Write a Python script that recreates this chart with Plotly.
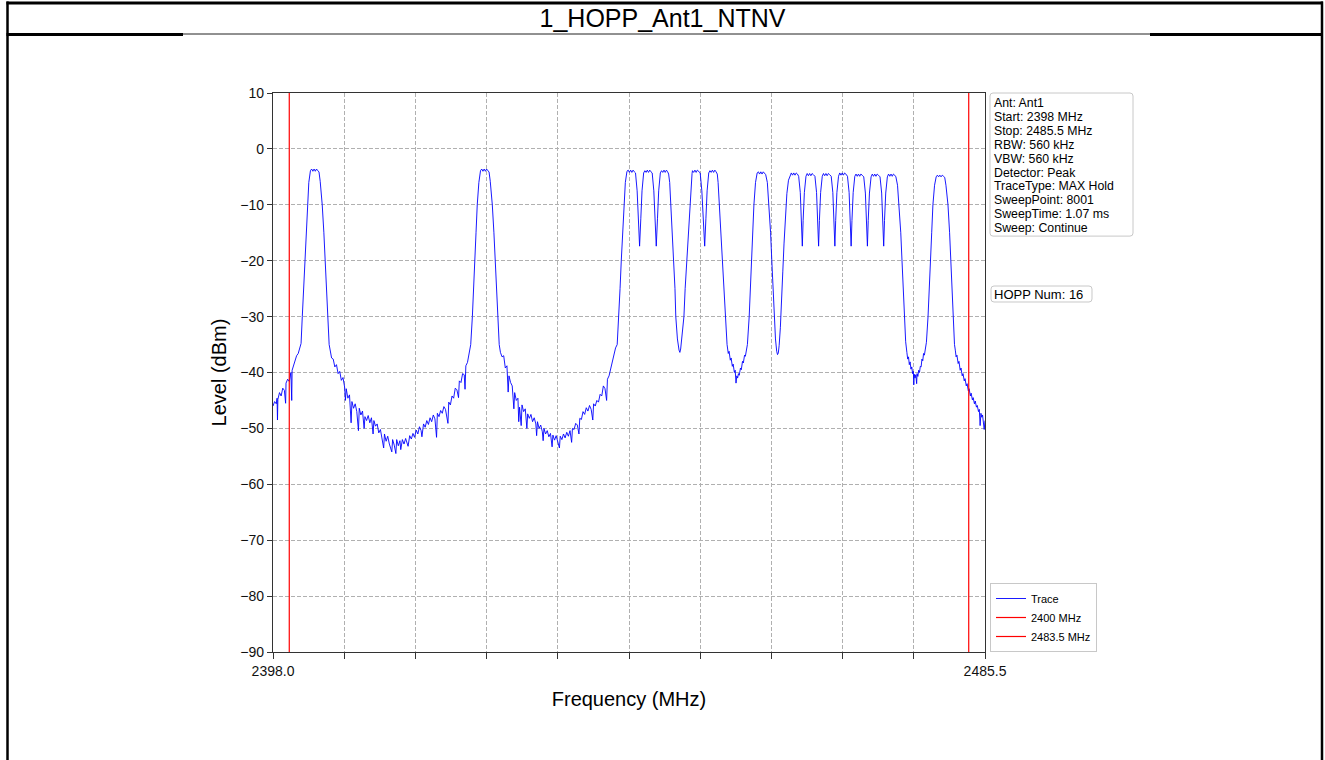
import plotly.graph_objects as go

# ---------------- data ----------------
TITLE = "1_HOPP_Ant1_NTNV"
X_RANGE = [2398.0, 2485.5]
Y_RANGE = [-90, 10]
Y_TICKS = [-90, -80, -70, -60, -50, -40, -30, -20, -10, 0, 10]
X_TICKS = [2398.0, 2406.75, 2415.5, 2424.25, 2433.0, 2441.75,
           2450.5, 2459.25, 2468.0, 2476.75, 2485.5]
X_TICK_TEXT = ["2398.0", "", "", "", "", "", "", "", "", "", "2485.5"]
LIMIT_FREQS = [2400.0, 2483.5]
LIMIT_NAMES = ["2400 MHz", "2483.5 MHz"]
INFO_LINES = ["Ant: Ant1", "Start: 2398 MHz", "Stop: 2485.5 MHz", "RBW: 560 kHz",
              "VBW: 560 kHz", "Detector: Peak", "TraceType: MAX Hold",
              "SweepPoint: 8001", "SweepTime: 1.07 ms", "Sweep: Continue"]
HOPP_TEXT = "HOPP Num: 16"

# trace: frequency (MHz) and level (dBm), segment by segment
FREQ_MHZ = [
    # noise 2398 - 2401.4
    2398.0, 2398.2, 2398.4, 2398.5, 2398.55, 2398.6, 2398.8, 2399.0, 2399.2, 2399.4,
    2399.55, 2399.6, 2399.8, 2400.0, 2400.2, 2400.3, 2400.35, 2400.5, 2400.7, 2400.9,
    2401.1, 2401.3, 2401.45,
    # channel 2403
    2401.6, 2401.75, 2401.9, 2402.05, 2402.2, 2402.4, 2402.6, 2402.75, 2402.9, 2403.05,
    2403.2, 2403.35, 2403.5, 2403.65, 2403.8, 2404.05, 2404.25, 2404.4, 2404.55, 2404.67,
    2404.9,
    # noise 2405 - 2422
    2405.0, 2405.2, 2405.4, 2405.6, 2405.8, 2406.0, 2406.2, 2406.4, 2406.6, 2406.8,
    2406.9, 2407.0, 2407.2, 2407.4, 2407.6, 2407.7, 2407.9, 2408.1, 2408.3, 2408.5,
    2408.6, 2408.8, 2409.0, 2409.2, 2409.3, 2409.5, 2409.7, 2409.9, 2410.1, 2410.3,
    2410.4, 2410.6, 2410.8, 2411.0, 2411.2, 2411.4, 2411.6, 2411.7, 2411.9, 2412.1,
    2412.3, 2412.6, 2412.7, 2412.9, 2413.1, 2413.2, 2413.4, 2413.6, 2413.7, 2413.9,
    2414.1, 2414.3, 2414.5, 2414.6, 2414.8, 2415.0, 2415.2, 2415.4, 2415.6, 2415.8,
    2416.0, 2416.2, 2416.3, 2416.5, 2416.7, 2416.9, 2417.1, 2417.3, 2417.5, 2417.7,
    2417.9, 2418.1, 2418.2, 2418.4, 2418.6, 2418.8, 2419.0, 2419.2, 2419.5, 2419.6,
    2419.8, 2420.0, 2420.2, 2420.4, 2420.6, 2420.8, 2420.9, 2421.1, 2421.3, 2421.5,
    2421.6, 2421.7, 2421.9, 2422.1,
    # channel 2424
    2422.3, 2422.5, 2422.62, 2422.8, 2422.95, 2423.1, 2423.3, 2423.5, 2423.65, 2423.8,
    2423.95, 2424.1, 2424.25, 2424.4, 2424.55, 2424.7, 2424.95, 2425.15, 2425.3, 2425.45,
    2425.57, 2425.8,
    # noise 2426 - 2440
    2425.95, 2426.15, 2426.35, 2426.55, 2426.75, 2426.9, 2427.0, 2427.2, 2427.4, 2427.6,
    2427.7, 2427.9, 2428.1, 2428.2, 2428.3, 2428.5, 2428.6, 2428.8, 2429.0, 2429.2,
    2429.3, 2429.5, 2429.7, 2429.9, 2430.1, 2430.3, 2430.4, 2430.5, 2430.7, 2430.9,
    2431.1, 2431.2, 2431.3, 2431.5, 2431.7, 2431.9, 2432.1, 2432.3, 2432.4, 2432.6,
    2432.8, 2433.0, 2433.2, 2433.3, 2433.5, 2433.7, 2433.9, 2434.1, 2434.3, 2434.5,
    2434.7, 2434.8, 2435.0, 2435.2, 2435.4, 2435.6, 2435.7, 2435.9, 2436.1, 2436.3,
    2436.5, 2436.7, 2436.9, 2437.1, 2437.3, 2437.4, 2437.6, 2437.8, 2438.0, 2438.2,
    2438.4, 2438.6, 2438.8, 2439.0, 2439.1, 2439.3, 2439.5, 2439.7, 2439.9, 2440.1,
    # channels 2442 / 2444 / 2446
    2440.3, 2440.52, 2440.65, 2440.8, 2440.95, 2441.1, 2441.3, 2441.5, 2441.65, 2441.8,
    2441.95, 2442.1, 2442.25, 2442.4, 2442.55, 2442.75, 2442.9, 2443.05, 2443.2, 2443.35,
    2443.55, 2443.7, 2443.85, 2444.0, 2444.15, 2444.3, 2444.45, 2444.6, 2444.8, 2444.95,
    2445.1, 2445.25, 2445.4, 2445.6, 2445.75, 2445.9, 2446.05, 2446.2, 2446.35, 2446.5,
    2446.62, 2446.75, 2446.9, 2447.1, 2447.3, 2447.4, 2447.5, 2447.7, 2447.9, 2448.0,
    2448.1, 2448.3, 2448.5, 2448.65, 2448.85, 2449.0, 2449.2, 2449.35,
    # channels 2450 / 2452
    2449.5, 2449.55, 2449.7, 2449.85, 2450.0, 2450.15, 2450.3, 2450.5, 2450.7, 2450.9,
    2451.05, 2451.2, 2451.35, 2451.55, 2451.7, 2451.85, 2452.0, 2452.15, 2452.3, 2452.45,
    2452.6, 2452.7, 2452.85, 2453.0, 2453.15, 2453.35, 2453.55, 2453.8,
    # noise 2454 - 2456
    2453.95, 2454.05, 2454.2, 2454.3, 2454.45, 2454.55, 2454.7, 2454.8, 2454.9, 2455.0,
    2455.1, 2455.2, 2455.3, 2455.45, 2455.55, 2455.7, 2455.8, 2455.95, 2456.05, 2456.2,
    # channel 2458
    2456.3, 2456.52, 2456.65, 2456.8, 2456.95, 2457.1, 2457.3, 2457.5, 2457.65, 2457.8,
    2457.95, 2458.1, 2458.25, 2458.4, 2458.55, 2458.75, 2458.95, 2459.15, 2459.3, 2459.45,
    2459.57, 2459.75, 2459.9, 2460.0, 2460.1, 2460.2,
    # channels 2462 ... 2474
    2460.35, 2460.5, 2460.65, 2460.8, 2460.95, 2461.15, 2461.35,
    2461.55, 2461.7, 2461.85, 2462.0, 2462.15, 2462.3, 2462.45, 2462.6,
    2462.8, 2462.95, 2463.05, 2463.15, 2463.3, 2463.5,
    2463.65, 2463.8, 2463.95, 2464.1, 2464.25, 2464.4, 2464.6,
    2464.8, 2464.95, 2465.05, 2465.15, 2465.3, 2465.5,
    2465.65, 2465.8, 2465.95, 2466.1, 2466.25, 2466.4, 2466.6,
    2466.8, 2466.95, 2467.05, 2467.15, 2467.3, 2467.5,
    2467.65, 2467.8, 2467.95, 2468.1, 2468.25, 2468.4, 2468.6,
    2468.8, 2468.95, 2469.05, 2469.15, 2469.3, 2469.5,
    2469.65, 2469.8, 2469.95, 2470.1, 2470.25, 2470.4, 2470.6,
    2470.8, 2470.95, 2471.05, 2471.15, 2471.3, 2471.5,
    2471.65, 2471.8, 2471.95, 2472.1, 2472.25, 2472.4, 2472.6,
    2472.8, 2472.95, 2473.05, 2473.15, 2473.3, 2473.5,
    2473.65, 2473.8, 2473.95, 2474.1, 2474.25, 2474.4, 2474.55,
    2474.75, 2474.95, 2475.15, 2475.3, 2475.45, 2475.57, 2475.75,
    # noise 2476 - 2478
    2475.9, 2476.0, 2476.1, 2476.2, 2476.3, 2476.4, 2476.5, 2476.6, 2476.7, 2476.75,
    2476.8, 2476.9, 2477.0, 2477.1, 2477.15, 2477.25, 2477.35, 2477.45, 2477.55, 2477.65,
    2477.75, 2477.85, 2477.95, 2478.05, 2478.15, 2478.3,
    # channel 2480
    2478.5, 2478.62, 2478.8, 2478.95, 2479.1, 2479.3, 2479.5, 2479.65, 2479.8, 2479.95,
    2480.1, 2480.25, 2480.4, 2480.55, 2480.7, 2480.95, 2481.15, 2481.3, 2481.45, 2481.57,
    2481.75,
    # noise 2482 - 2485.5
    2481.85, 2481.95, 2482.05, 2482.2, 2482.3, 2482.45, 2482.55, 2482.7, 2482.8, 2482.95,
    2483.05, 2483.2, 2483.3, 2483.45, 2483.55, 2483.7, 2483.8, 2483.95, 2484.05, 2484.2,
    2484.3, 2484.45, 2484.55, 2484.7, 2484.8, 2484.9, 2485.0, 2485.1, 2485.2, 2485.3,
    2485.4, 2485.5,
]

LEVEL_DBM = [
    # noise 2398 - 2401.4
    -46.0, -45.2, -45.6, -44.6, -48.5, -44.8, -43.6, -44.2, -42.8, -43.2,
    -45.5, -41.9, -41.2, -41.6, -40.0, -45.0, -39.6, -38.8, -38.2, -37.0,
    -36.6, -35.4, -34.8,
    # channel 2403
    -30.0, -25.0, -20.0, -15.0, -10.0, -6.0, -3.9, -3.6, -4.0, -3.6,
    -4.0, -3.6, -3.9, -4.1, -5.8, -10.0, -15.0, -20.0, -25.0, -30.0,
    -35.0,
    # noise 2405 - 2422
    -35.8, -37.4, -37.6, -39.0, -38.6, -40.2, -39.8, -41.4, -40.9, -42.6,
    -45.0, -42.9, -44.6, -44.0, -49.0, -45.2, -46.4, -45.6, -47.0, -50.4,
    -46.4, -47.6, -46.9, -50.0, -47.9, -48.6, -47.7, -49.0, -48.1, -51.0,
    -48.6, -49.6, -49.2, -50.8, -50.2, -51.6, -53.5, -51.0, -52.3, -51.4,
    -52.8, -54.2, -52.0, -53.0, -54.5, -52.0, -53.1, -52.2, -53.8, -52.0,
    -52.8, -51.8, -52.6, -53.2, -51.3, -51.9, -50.9, -51.6, -50.3, -51.0,
    -49.7, -50.4, -51.5, -49.2, -49.8, -48.6, -49.3, -48.1, -48.8, -47.6,
    -48.3, -51.6, -47.3, -47.9, -46.8, -47.3, -46.1, -46.6, -49.1, -45.3,
    -45.8, -44.2, -44.6, -42.8, -43.1, -44.5, -41.5, -41.8, -40.2, -40.4,
    -43.0, -38.8, -38.2, -36.5,
    # channel 2424
    -35.0, -30.0, -25.0, -20.0, -15.0, -10.0, -6.0, -3.9, -3.6, -4.0,
    -3.6, -4.0, -3.6, -3.9, -4.1, -5.8, -10.0, -15.0, -20.0, -25.0,
    -30.0, -35.0,
    # noise 2426 - 2440
    -36.4, -37.2, -37.0, -39.2, -38.8, -43.5, -40.6, -41.8, -42.4, -46.5,
    -43.6, -45.0, -44.6, -48.8, -46.2, -49.5, -45.8, -47.0, -46.5, -50.0,
    -47.4, -48.2, -47.5, -48.8, -48.1, -49.2, -51.3, -48.8, -50.0, -49.4,
    -50.6, -52.2, -50.0, -51.0, -50.4, -51.5, -50.9, -53.3, -51.2, -52.1,
    -51.3, -52.2, -53.5, -51.4, -52.0, -51.0, -51.7, -50.7, -51.4, -50.4,
    -52.5, -50.0, -50.2, -49.1, -49.4, -51.0, -48.2, -48.4, -47.0, -47.5,
    -46.3, -46.9, -45.9, -46.6, -48.5, -45.6, -46.0, -45.0, -45.3, -43.9,
    -44.2, -42.4, -42.9, -45.0, -41.2, -40.6, -39.4, -38.0, -37.2, -35.6,
    # channels 2442 / 2444 / 2446
    -35.0, -30.0, -25.0, -20.0, -15.0, -10.0, -6.0, -4.0, -3.8, -4.2,
    -3.8, -4.2, -3.8, -4.1, -4.3, -7.5, -12.5, -17.4, -12.5, -7.5,
    -4.3, -3.9, -4.2, -3.8, -4.2, -3.8, -4.1, -4.3, -7.5, -12.5,
    -17.4, -12.5, -7.5, -4.3, -3.9, -4.2, -3.8, -4.2, -3.8, -4.1,
    -4.5, -6.0, -10.0, -15.0, -20.0, -25.0, -30.0, -34.0, -36.0, -36.4,
    -35.8, -33.0, -30.0, -25.0, -20.0, -15.0, -10.0, -6.0,
    # channels 2450 / 2452
    -4.4, -3.9, -4.2, -3.8, -4.2, -3.8, -4.1, -4.3, -7.5, -12.5,
    -17.4, -12.5, -7.5, -4.3, -3.9, -4.2, -3.8, -4.2, -3.8, -4.1,
    -4.5, -6.0, -10.0, -15.0, -20.0, -25.0, -30.0, -35.0,
    # noise 2454 - 2456
    -36.6, -36.2, -37.8, -37.4, -38.9, -38.5, -40.0, -39.6, -41.9, -40.6,
    -41.0, -40.2, -40.5, -39.2, -39.5, -38.0, -38.3, -36.9, -37.1, -35.5,
    # channel 2458
    -35.0, -30.0, -25.0, -20.0, -15.0, -10.0, -6.0, -4.3, -4.1, -4.5,
    -4.1, -4.5, -4.1, -4.4, -4.6, -6.0, -10.0, -15.0, -20.0, -25.0,
    -30.0, -34.0, -36.2, -36.8, -36.5, -35.2,
    # channels 2462 ... 2474
    -32.0, -28.0, -22.0, -17.0, -12.0, -8.0, -5.6,
    -4.6, -4.3, -4.7, -4.3, -4.7, -4.3, -4.5, -4.9,
    -7.8, -12.8, -17.4, -12.8, -7.8, -4.9,
    -4.4, -4.8, -4.4, -4.8, -4.4, -4.6, -4.9,
    -7.8, -12.8, -17.4, -12.8, -7.8, -4.9,
    -4.4, -4.8, -4.4, -4.8, -4.4, -4.6, -4.9,
    -7.8, -12.8, -17.4, -12.8, -7.8, -4.9,
    -4.3, -4.7, -4.3, -4.7, -4.3, -4.5, -4.9,
    -7.8, -12.8, -17.4, -12.8, -7.8, -4.9,
    -4.5, -4.9, -4.5, -4.9, -4.5, -4.7, -5.0,
    -7.9, -12.8, -17.4, -12.8, -7.9, -5.0,
    -4.5, -4.9, -4.5, -4.9, -4.5, -4.7, -5.0,
    -7.9, -12.8, -17.4, -12.8, -7.9, -5.0,
    -4.5, -4.9, -4.5, -4.9, -4.5, -4.7, -5.0,
    -6.5, -10.0, -15.0, -20.0, -25.0, -30.0, -34.5,
    # noise 2476 - 2478
    -36.4, -37.6, -37.2, -38.6, -38.1, -39.4, -39.0, -40.2, -39.8, -42.2,
    -40.3, -41.0, -40.4, -42.0, -40.2, -40.7, -39.6, -40.0, -38.9, -39.0,
    -37.6, -37.9, -36.6, -36.9, -35.5, -34.6,
    # channel 2480
    -30.0, -25.0, -20.0, -15.0, -10.0, -6.5, -5.0, -4.7, -5.0, -4.7,
    -5.0, -4.7, -4.9, -5.1, -6.5, -10.0, -15.0, -20.0, -25.0, -30.0,
    -35.0,
    # noise 2482 - 2485.5
    -36.0, -37.2, -36.9, -38.4, -38.0, -39.6, -39.2, -40.6, -40.2, -41.5,
    -41.1, -42.4, -42.0, -43.3, -42.9, -44.2, -43.7, -44.9, -44.5, -45.6,
    -45.1, -46.2, -45.9, -47.0, -46.6, -49.5, -47.3, -48.0, -47.6, -48.5,
    -50.2, -48.6,
]

# ---------------- layout geometry (pixels) ----------------
W, H = 1325, 760
PL, PR, PT, PB = 273, 985, 93, 652   # plot area edges in px
FONT = "Liberation Sans, Arial, sans-serif"
INFO_FONT = 12.3
INFO_STEP = 13.9


def px_x(px):
    return (px - PL) / (PR - PL)


def px_y(py):
    return (PB - py) / (PB - PT)


fig = go.Figure()
fig.add_trace(go.Scatter(x=FREQ_MHZ, y=LEVEL_DBM, mode="lines", name="Trace",
                         line=dict(color="#0000ff", width=0.9)))
for f, n in zip(LIMIT_FREQS, LIMIT_NAMES):
    fig.add_trace(go.Scatter(x=[f, f], y=Y_RANGE, mode="lines", name=n,
                             line=dict(color="#ff0000", width=1.2)))

shapes = []
# outer document frame
shapes.append(dict(type="line", xref="paper", yref="paper", x0=px_x(7.5), x1=px_x(7.5),
                   y0=px_y(1.5), y1=px_y(762), line=dict(color="#000", width=2.5)))
shapes.append(dict(type="line", xref="paper", yref="paper", x0=px_x(1322), x1=px_x(1322),
                   y0=px_y(1.5), y1=px_y(762), line=dict(color="#000", width=2.5)))
shapes.append(dict(type="line", xref="paper", yref="paper", x0=px_x(6.5), x1=px_x(1323),
                   y0=px_y(3), y1=px_y(3), line=dict(color="#000", width=3)))
# title separator
shapes.append(dict(type="line", xref="paper", yref="paper", x0=px_x(6.5), x1=px_x(183),
                   y0=px_y(34.5), y1=px_y(34.5), line=dict(color="#000", width=3)))
shapes.append(dict(type="line", xref="paper", yref="paper", x0=px_x(183), x1=px_x(1150),
                   y0=px_y(34), y1=px_y(34), line=dict(color="#222", width=1)))
shapes.append(dict(type="line", xref="paper", yref="paper", x0=px_x(1150), x1=px_x(1323),
                   y0=px_y(34.5), y1=px_y(34.5), line=dict(color="#000", width=3)))


def round_rect(x0, y0, x1, y1, r=3):
    def P(x, y):
        return f"{px_x(x):.5f},{px_y(y):.5f}"
    return (f"M {P(x0 + r, y0)} L {P(x1 - r, y0)} Q {P(x1, y0)} {P(x1, y0 + r)} "
            f"L {P(x1, y1 - r)} Q {P(x1, y1)} {P(x1 - r, y1)} L {P(x0 + r, y1)} "
            f"Q {P(x0, y1)} {P(x0, y1 - r)} L {P(x0, y0 + r)} Q {P(x0, y0)} {P(x0 + r, y0)} Z")


info_top = 93
first_c = info_top + 10
last_c = first_c + INFO_STEP * (len(INFO_LINES) - 1)
shapes.append(dict(type="path", xref="paper", yref="paper",
                   path=round_rect(990, info_top, 1133, last_c + 8),
                   line=dict(color="#c8c8c8", width=1), fillcolor="white"))
shapes.append(dict(type="path", xref="paper", yref="paper", path=round_rect(991, 286, 1092, 302),
                   line=dict(color="#c8c8c8", width=1), fillcolor="white"))

annotations = []
for i, t in enumerate(INFO_LINES):
    annotations.append(dict(text=t, xref="paper", yref="paper", x=px_x(992),
                            y=px_y(first_c + INFO_STEP * i),
                            xanchor="left", yanchor="middle", showarrow=False,
                            font=dict(family=FONT, size=INFO_FONT, color="#000")))
annotations.append(dict(text=HOPP_TEXT, xref="paper", yref="paper", x=px_x(992), y=px_y(294.5),
                        xanchor="left", yanchor="middle", showarrow=False,
                        font=dict(family=FONT, size=13, color="#000")))

axis_common = dict(showline=True, mirror=True, linecolor="#333", linewidth=1.3,
                   ticks="outside", tickwidth=1.2, tickcolor="#333",
                   showgrid=True, gridcolor="#b0b0b0", griddash="4px,2px", gridwidth=0.8,
                   zeroline=False, tickfont=dict(family=FONT, size=14, color="#111"))

fig.update_layout(
    width=W, height=H, autosize=False,
    margin=dict(l=PL, r=W - PR, t=PT, b=H - PB),
    paper_bgcolor="white", plot_bgcolor="white",
    title=dict(text=TITLE, x=0.5, xref="container", xanchor="center",
               y=1 - 18.5 / H, yref="container", yanchor="middle",
               font=dict(family=FONT, size=25, color="#000")),
    xaxis=dict(range=X_RANGE, tickmode="array", tickvals=X_TICKS, ticktext=X_TICK_TEXT,
               ticklen=6,
               title=dict(text="Frequency (MHz)", standoff=14,
                          font=dict(family=FONT, size=20, color="#000")),
               **axis_common),
    yaxis=dict(range=Y_RANGE, tickmode="array", tickvals=Y_TICKS, ticklen=5,
               title=dict(text="Level (dBm)", standoff=8,
                          font=dict(family=FONT, size=20, color="#000")),
               **axis_common),
    legend=dict(x=px_x(990), y=px_y(652), xanchor="left", yanchor="bottom",
                xref="paper", yref="paper",
                bgcolor="white", bordercolor="#c8c8c8", borderwidth=1,
                font=dict(family=FONT, size=11, color="#000"),
                itemwidth=30, tracegroupgap=0),
    shapes=shapes, annotations=annotations,
    showlegend=True,
)

fig.write_html("out.html", config={"displayModeBar": False},
               post_script="document.body.style.margin='0px';")
